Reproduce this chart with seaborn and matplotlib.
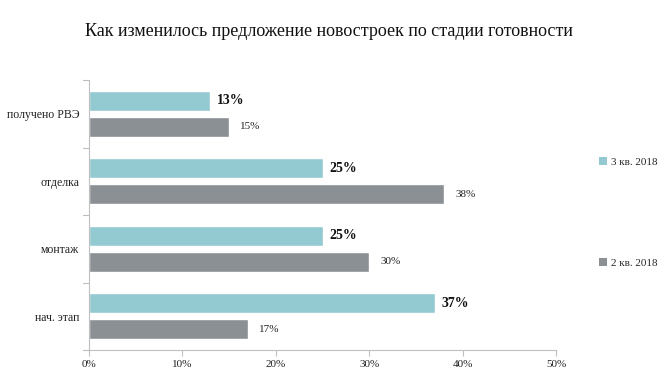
import matplotlib
matplotlib.use("Agg")
import matplotlib.pyplot as plt
import seaborn as sns
import pandas as pd
from matplotlib.patches import Patch

categories = ["получено РВЭ", "отделка", "монтаж", "нач. этап"]
q3_2018 = [13, 25, 25, 37]
q2_2018 = [15, 38, 30, 17]
series_names = ["3 кв. 2018", "2 кв. 2018"]
x_ticks = [0, 10, 20, 30, 40, 50]
x_tick_labels = ["0%", "10%", "20%", "30%", "40%", "50%"]
title = "Как изменилось предложение новостроек по стадии готовности"

colors = ["#93C9D1", "#8B9095"]

df = pd.DataFrame({
    "cat": categories * 2,
    "val": q3_2018 + q2_2018,
    "series": [series_names[0]] * len(categories) + [series_names[1]] * len(categories),
})

sns.set_theme(style="white")
plt.rcParams["font.family"] = ["Liberation Serif", "DejaVu Serif"]

fig = plt.figure(figsize=(6.72, 3.88), dpi=100)
ax = fig.add_axes([89 / 672, 38 / 388, (556 - 89) / 672, (350 - 80) / 388])

sns.barplot(data=df, y="cat", x="val", hue="series", orient="h",
            palette=colors, width=0.765, gap=0.23, ax=ax, legend=False,
            order=categories, hue_order=series_names, saturation=1)

for i, cont in enumerate(ax.containers):
    if i == 0:
        ax.bar_label(cont, labels=[f"{v}%" for v in q3_2018], padding=5,
                     fontsize=10, fontweight="bold", color="#111111")
    else:
        ax.bar_label(cont, labels=[f"{v}%" for v in q2_2018], padding=8,
                     fontsize=8, color="#222222")

ax.set_xlim(0, 50)
ax.set_ylim(3.5, -0.5)
ax.set_xticks(x_ticks)
ax.set_xticklabels(x_tick_labels, fontsize=8, color="#222222")
ax.set_yticks(range(len(categories)))
ax.set_yticklabels(categories, fontsize=8.5, color="#222222")
ax.set_xlabel("")
ax.set_ylabel("")

# boundary tick marks on left spine
ax.tick_params(axis="y", length=0, pad=7)
for b in [-0.5, 0.5, 1.5, 2.5, 3.5]:
    ax.plot([-0.012, 0], [b, b], transform=ax.get_yaxis_transform(),
            color="#BFBFBF", lw=0.8, clip_on=False)
ax.tick_params(axis="x", length=4, color="#BFBFBF", width=0.8, pad=3, bottom=True)

for s in ["top", "right"]:
    ax.spines[s].set_visible(False)
for s in ["left", "bottom"]:
    ax.spines[s].set_color("#BFBFBF")
    ax.spines[s].set_linewidth(0.8)

fig.text(0.49, 1 - 31 / 388, title, ha="center", va="center", fontsize=13, color="#111111")

handles = [Patch(facecolor=c, edgecolor="none") for c in colors]
fig.legend(handles, series_names, loc="upper left",
           bbox_to_anchor=(595 / 672, 1 - 153 / 388), frameon=False,
           fontsize=8, handlelength=0.7, handleheight=0.7, handletextpad=0.3,
           labelspacing=8.2, borderaxespad=0)

fig.savefig("out.png", dpi=100, facecolor="white")
